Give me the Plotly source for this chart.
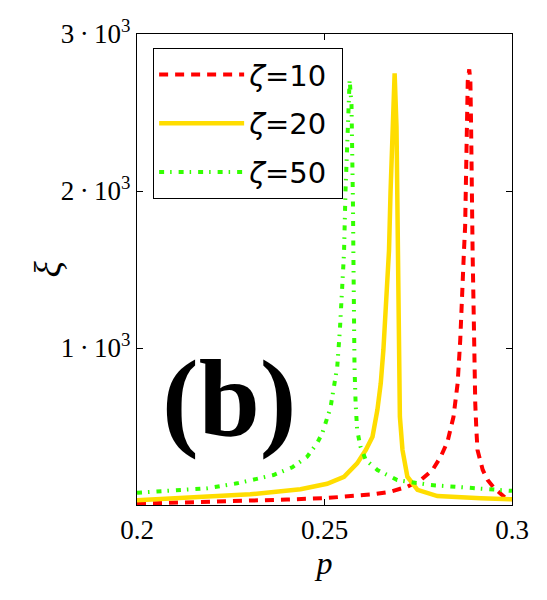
import plotly.graph_objects as go

# ---- data ----
p_10 = [0.200, 0.209, 0.2186, 0.240, 0.2498, 0.2587, 0.2630, 0.2676, 0.2721, 0.2757,
        0.2788, 0.2810, 0.2828, 0.2844, 0.2855, 0.2862, 0.2868, 0.2872, 0.2875, 0.2877,
        0.2880, 0.2882, 0.2886, 0.2889, 0.2891, 0.2892, 0.2893, 0.2895, 0.2898, 0.2899,
        0.2902, 0.2905, 0.2908, 0.2922, 0.2935, 0.2953, 0.2979, 0.3000]
xi_10 = [8, 13, 21, 35, 43, 57, 68, 85, 117, 159,
         223, 308, 403, 562, 775, 1051, 1327, 1624, 1773, 2091,
         2410, 2700, 2775, 2700, 2400, 2100, 1850, 1600, 1200, 881,
         648, 478, 350, 223, 159, 106, 53, 35]

p_20 = [0.200, 0.2168, 0.2302, 0.2436, 0.2507, 0.2552, 0.2587, 0.2610, 0.2628, 0.2641,
        0.2650, 0.2657, 0.2663, 0.2669, 0.2672, 0.2676, 0.2681, 0.2687, 0.2692, 0.2694,
        0.2696, 0.2697, 0.2699, 0.2701, 0.2708, 0.2721, 0.2748, 0.2801, 0.2917, 0.3000]
xi_20 = [30, 50, 68, 100, 135, 180, 265, 350, 435, 605,
         775, 987, 1242, 1518, 1620, 1985, 2410, 2750, 2410, 1985,
         1605, 1200, 881, 562, 350, 180, 96, 57, 43, 36]

p_50 = [0.200, 0.2107, 0.2186, 0.2267, 0.2364, 0.2414, 0.2454, 0.2480, 0.2494, 0.2516,
        0.2525, 0.2534, 0.2541, 0.2547, 0.2552, 0.2556, 0.2561, 0.2567, 0.2572, 0.2575,
        0.2576, 0.2577, 0.2578, 0.2580, 0.2583, 0.2587, 0.2596, 0.2610, 0.2641, 0.2694,
        0.2783, 0.2890, 0.3000]
xi_50 = [78, 92, 106, 138, 191, 240, 308, 393, 457, 620,
         754, 881, 1115, 1369, 1603, 2000, 2400, 2710, 2550, 2200,
         1900, 1603, 1200, 881, 648, 478, 371, 287, 223, 159,
         127, 106, 90]

x_ticks = [0.2, 0.25, 0.3]
x_ticktext = ["0.2", "0.25", "0.3"]
y_ticks = [1000, 2000, 3000]
y_ticktext = ["1\u2009\u00b7\u200910<sup>3</sup>", "2\u2009\u00b7\u200910<sup>3</sup>",
              "3\u2009\u00b7\u200910<sup>3</sup>"]

serif = "Liberation Serif"

fig = go.Figure()
fig.add_trace(go.Scatter(x=p_10, y=xi_10, mode="lines", name="<i>\u03b6</i>=10&nbsp;",
                         legendgroup="a",
                         line=dict(color="#ff0000", width=4, dash="9px,7px")))
fig.add_trace(go.Scatter(x=p_20, y=xi_20, mode="lines", name="<i>\u03b6</i>=20&nbsp;",
                         legendgroup="b",
                         line=dict(color="#ffdd00", width=4.5)))
fig.add_trace(go.Scatter(x=p_50, y=xi_50, mode="lines", name="<i>\u03b6</i>=50&nbsp;",
                         legendgroup="c",
                         line=dict(color="#33ff00", width=4, dash="5px,6px,1.5px,7px")))

axis_common = dict(showline=True, linecolor="black", linewidth=1.2, mirror="allticks",
                   ticks="inside", ticklen=6, tickcolor="black", showgrid=False,
                   zeroline=False, automargin=False,
                   tickfont=dict(family=serif, size=27, color="black"))

# the page body adds 8px around the figure, so the figure is 8px smaller
fig.update_layout(
    template="none",
    width=539, height=592,
    margin=dict(l=129, r=35, t=26, b=95),
    paper_bgcolor="white", plot_bgcolor="white",
    xaxis=dict(range=[0.2, 0.3], tickvals=x_ticks, ticktext=x_ticktext,
               title=dict(text="<i>p</i>", font=dict(family=serif, size=32, color="black"),
                          standoff=8),
               **axis_common),
    yaxis=dict(range=[0, 3000], tickvals=y_ticks, ticktext=y_ticktext, **axis_common),
    legend=dict(x=0.043, y=0.97, xanchor="left", yanchor="top",
                bgcolor="white", bordercolor="black", borderwidth=1,
                font=dict(family="DejaVu Sans", size=29, color="black"),
                traceorder="grouped", tracegroupgap=8, itemwidth=85),
    showlegend=True,
)

# y axis title placed by hand (rotated, closer to the tick labels)
fig.add_annotation(text="<i>\u03be</i>", xref="paper", yref="paper", x=-0.24, y=0.5,
                   xanchor="center", yanchor="middle", textangle=-90, showarrow=False,
                   font=dict(family=serif, size=38, color="black"))

fig.add_annotation(text="<b>(b)</b>", xref="paper", yref="paper", x=0.245, y=0.224,
                   xanchor="center", yanchor="middle", showarrow=False,
                   font=dict(family=serif, size=110, color="black"))

fig.write_html("out.html")
